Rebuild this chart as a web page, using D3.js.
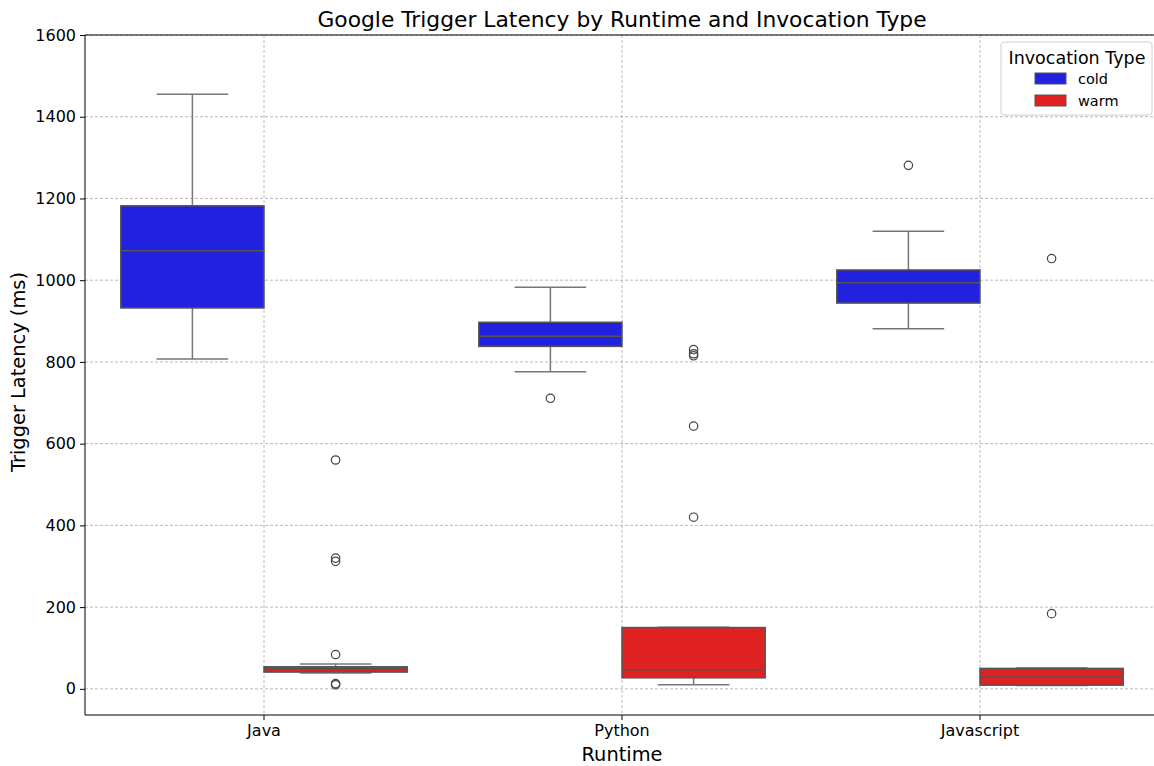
<!DOCTYPE html>
<html>
<head>
<meta charset="utf-8">
<script src="https://cdn.jsdelivr.net/npm/d3@7"></script>
<style>
  body { margin: 0; background: #fff; }
  svg { font-family: "DejaVu Sans", sans-serif; }
</style>
</head>
<body>
<div id="chart"></div>
<script>
// categories
const runtimes = ["Java", "Python", "Javascript"];
const invocationTypes = ["cold", "warm"];
const yTicks = [0, 200, 400, 600, 800, 1000, 1200, 1400, 1600];

// box stats, one entry per runtime
const coldWhiskerLow = [807, 776, 881];
const coldQ1 = [932, 838, 944];
const coldMedian = [1072, 863, 994];
const coldQ3 = [1182, 897, 1025];
const coldWhiskerHigh = [1455, 983, 1120];
const coldOutliers = [[], [711], [1281]];

const warmWhiskerLow = [39, 10, 8];
const warmQ1 = [41, 27, 9];
const warmMedian = [49, 47, 29];
const warmQ3 = [54, 150, 50];
const warmWhiskerHigh = [61, 151, 51];
const warmOutliers = [[560, 320, 312, 84, 13, 10], [830, 820, 815, 643, 420], [1053, 184]];

const colors = { cold: "#2121df", warm: "#df2121" };

const W = 1154, H = 766;
const margin = { left: 85, top: 35, right: -5, bottom: 51 };
const width = W - margin.left - margin.right;
const height = H - margin.top - margin.bottom;

const svg = d3.select("#chart").append("svg")
  .attr("width", W).attr("height", H);
const g = svg.append("g")
  .attr("transform", "translate(" + margin.left + "," + margin.top + ")");

const x = d3.scaleBand().domain(runtimes).range([0, width]);
const xHue = d3.scaleBand().domain(invocationTypes).range([x.bandwidth() * 0.1, x.bandwidth() * 0.9]);
const y = d3.scaleLinear().domain([-64, 1600]).range([height, 0]);

// grid
const gridColor = "#a8a8a8";
g.append("g").selectAll("line").data(yTicks).enter().append("line")
  .attr("x1", 0).attr("x2", width)
  .attr("y1", d => y(d)).attr("y2", d => y(d))
  .attr("stroke", gridColor).attr("stroke-width", 0.8).attr("stroke-dasharray", "3,2");
g.append("g").selectAll("line").data(runtimes).enter().append("line")
  .attr("x1", d => x(d) + x.bandwidth() / 2).attr("x2", d => x(d) + x.bandwidth() / 2)
  .attr("y1", 0).attr("y2", height)
  .attr("stroke", gridColor).attr("stroke-width", 0.8).attr("stroke-dasharray", "3,2");

// build box rows
const rows = [];
runtimes.forEach((r, i) => {
  rows.push({ runtime: r, type: "cold", lo: coldWhiskerLow[i], q1: coldQ1[i], med: coldMedian[i], q3: coldQ3[i], hi: coldWhiskerHigh[i], out: coldOutliers[i] });
  rows.push({ runtime: r, type: "warm", lo: warmWhiskerLow[i], q1: warmQ1[i], med: warmMedian[i], q3: warmQ3[i], hi: warmWhiskerHigh[i], out: warmOutliers[i] });
});

const lineColor = "#555555";
const boxes = g.append("g").selectAll("g").data(rows).enter().append("g")
  .attr("transform", d => "translate(" + (x(d.runtime) + xHue(d.type)) + ",0)");
const bw = xHue.bandwidth();

// whiskers
boxes.append("line").attr("x1", bw / 2).attr("x2", bw / 2)
  .attr("y1", d => y(d.hi)).attr("y2", d => y(d.q3))
  .attr("stroke", "#777").attr("stroke-width", 1.5);
boxes.append("line").attr("x1", bw / 2).attr("x2", bw / 2)
  .attr("y1", d => y(d.q1)).attr("y2", d => y(d.lo))
  .attr("stroke", "#777").attr("stroke-width", 1.5);
boxes.append("line").attr("x1", bw / 4).attr("x2", bw * 3 / 4)
  .attr("y1", d => y(d.hi)).attr("y2", d => y(d.hi))
  .attr("stroke", "#777").attr("stroke-width", 1.5);
boxes.append("line").attr("x1", bw / 4).attr("x2", bw * 3 / 4)
  .attr("y1", d => y(d.lo)).attr("y2", d => y(d.lo))
  .attr("stroke", "#777").attr("stroke-width", 1.5);

// box
boxes.append("rect")
  .attr("x", 0).attr("width", bw)
  .attr("y", d => y(d.q3)).attr("height", d => y(d.q1) - y(d.q3))
  .attr("fill", d => colors[d.type])
  .attr("stroke", lineColor).attr("stroke-width", 1.5);
// median
boxes.append("line").attr("x1", 0).attr("x2", bw)
  .attr("y1", d => y(d.med)).attr("y2", d => y(d.med))
  .attr("stroke", lineColor).attr("stroke-width", 1.5);
// outliers
boxes.selectAll("circle").data(d => d.out).enter().append("circle")
  .attr("cx", bw / 2).attr("cy", d => y(d)).attr("r", 4.2)
  .attr("fill", "none").attr("stroke", "#444").attr("stroke-width", 1.2);

// axes
const yAxis = g.append("g").call(d3.axisLeft(y).tickValues(yTicks).tickFormat(d3.format("d")).tickSize(5).tickPadding(4));
const xAxis = g.append("g").attr("transform", "translate(0," + height + ")")
  .call(d3.axisBottom(x).tickSize(5).tickPadding(5));
[yAxis, xAxis].forEach(a => {
  a.select(".domain").attr("stroke", "#000").attr("stroke-width", 1);
  a.selectAll(".tick line").attr("stroke", "#000");
  a.selectAll(".tick text").attr("font-size", 16).attr("fill", "#000").attr("font-family", "DejaVu Sans");
});
xAxis.select(".domain").attr("d", "M0,0H" + width);
yAxis.select(".domain").attr("d", "M0," + height + "V0");
// top spine
g.append("line").attr("x1", 0).attr("x2", width).attr("y1", 0).attr("y2", 0)
  .attr("stroke", "#000").attr("stroke-width", 1);

// labels
svg.append("text").attr("x", 622).attr("y", 27)
  .attr("text-anchor", "middle").attr("font-size", 21.8).text("Google Trigger Latency by Runtime and Invocation Type");
svg.append("text").attr("x", 622).attr("y", 761)
  .attr("text-anchor", "middle").attr("font-size", 19.4).text("Runtime");
svg.append("text").attr("transform", "translate(25," + (margin.top + height / 2 - 3) + ") rotate(-90)")
  .attr("text-anchor", "middle").attr("font-size", 19.4).text("Trigger Latency (ms)");

// legend
const leg = svg.append("g").attr("transform", "translate(1001,42)");
leg.append("rect").attr("width", 151).attr("height", 73).attr("rx", 3)
  .attr("fill", "#fff").attr("fill-opacity", 0.8).attr("stroke", "#d0d0d0");
leg.append("text").attr("x", 76).attr("y", 22).attr("text-anchor", "middle")
  .attr("font-size", 17.5).text("Invocation Type");
invocationTypes.forEach((t, i) => {
  const row = leg.append("g").attr("transform", "translate(34," + (31 + i * 22) + ")");
  row.append("rect").attr("width", 31).attr("height", 11)
    .attr("fill", colors[t]).attr("stroke", lineColor).attr("stroke-width", 1);
  row.append("text").attr("x", 43).attr("y", 10.5).attr("font-size", 14.5).text(t);
});
</script>
</body>
</html>
